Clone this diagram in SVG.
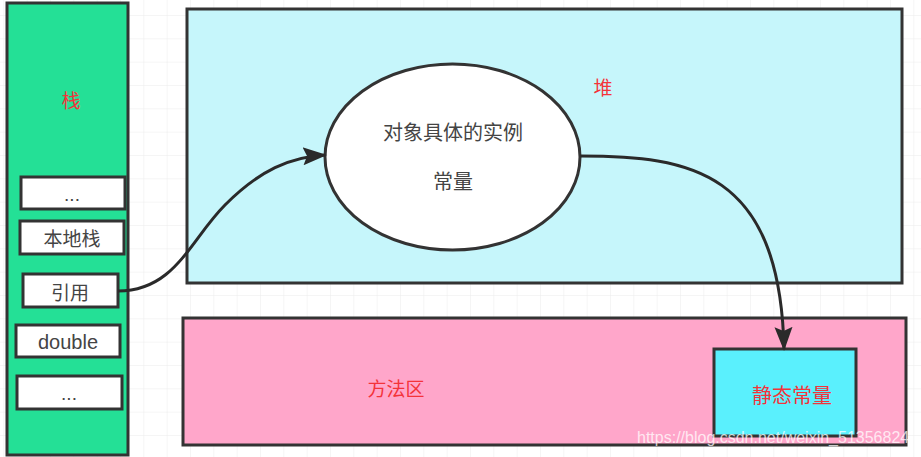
<svg xmlns="http://www.w3.org/2000/svg" width="921" height="457" viewBox="0 0 921 457">
<defs>
<pattern id="grid" width="23.333" height="23.333" x="3.33" y="15" patternUnits="userSpaceOnUse">
<path d="M0 0H23.333M0 0V23.333" fill="none" stroke="#ebebeb" stroke-width="1"/>
</pattern>
<marker id="ah2" markerWidth="24" markerHeight="20" refX="22" refY="9" orient="auto" markerUnits="userSpaceOnUse" viewBox="0 0 24 18">
<path d="M0,0 L24,9 L0,18 L4,9 Z" fill="#2a2a2a"/>
</marker>
</defs>
<style>
.box{stroke:#333;stroke-width:3}
.t{font-family:"Liberation Sans","Noto Sans CJK SC",sans-serif;font-size:19px;fill:#444;text-anchor:middle}
.r{font-family:"Liberation Sans","Noto Sans CJK SC",sans-serif;font-size:19px;fill:#f4333a;text-anchor:middle}
.conn{fill:none;stroke:#2a2a2a;stroke-width:3}
</style>
<rect width="921" height="457" fill="#fff"/>
<rect width="921" height="457" fill="url(#grid)"/>

<g id="heap">
<rect class="box" x="187" y="9" width="715" height="274" fill="#c6f6fb"/>
<text class="r" x="603" y="95">堆</text>
</g>
<g id="method-area">
<rect class="box" x="183" y="318" width="723" height="127" fill="#ffa6ca"/>
<text class="r" x="396" y="396">方法区</text>
</g>
<g id="stack">
<rect class="box" x="7" y="3" width="121" height="452" fill="#24e096"/>
<text class="r" x="71" y="108">栈</text>
</g>
<g id="stack-dots-1">
<rect class="box" x="21" y="177" width="104" height="32" fill="#fff"/>
<text class="t" x="72" y="201">...</text>
</g>
<g id="stack-native">
<rect class="box" x="20" y="221" width="104" height="33" fill="#fff"/>
<text class="t" x="72" y="246">本地栈</text>
</g>
<g id="stack-ref">
<rect class="box" x="23" y="274" width="95" height="33" fill="#fff"/>
<text class="t" x="70" y="300">引用</text>
</g>
<g id="stack-double">
<rect class="box" x="16" y="325" width="104" height="32" fill="#fff"/>
<text class="t" x="68" y="349" style="font-size:20px">double</text>
</g>
<g id="stack-dots-2">
<rect class="box" x="17" y="376" width="105" height="33" fill="#fff"/>
<text class="t" x="69" y="400">...</text>
</g>
<g id="instance">
<ellipse cx="452.5" cy="157" rx="127.5" ry="93" fill="#fff" stroke="#333" stroke-width="3"/>
<text class="t" x="453" y="140" style="font-size:20px">对象具体的实例</text>
<text class="t" x="453" y="189" style="font-size:20px">常量</text>
</g>
<g id="static-const">
<rect class="box" x="714" y="349" width="142" height="87" fill="#5af0fd"/>
<text class="r" x="792" y="403" style="font-size:20px">静态常量</text>
</g>
<g id="connectors">
<path class="conn" d="M118,291 C175,291 190,240 225,205 C260,170 290,157 325,155" marker-end="url(#ah2)"/>
<path class="conn" d="M580,156 C690,156 780,170 784,349" marker-end="url(#ah2)"/>
</g>
<text x="637" y="443" style="font-family:'Liberation Sans',sans-serif;font-size:16px;fill:#fff;fill-opacity:0.75">https://blog.csdn.net/weixin_51356824</text>
</svg>
